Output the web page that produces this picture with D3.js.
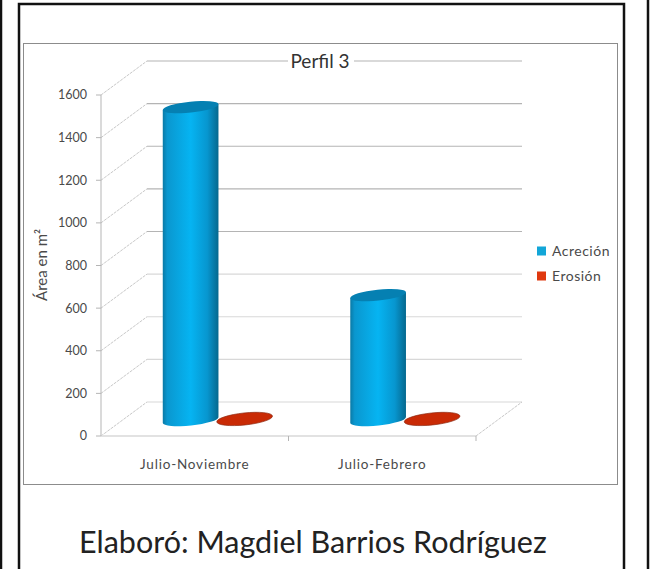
<!DOCTYPE html>
<html lang="en">
<head>
	<meta charset="UTF-8">
	<title>Perfil 3</title>
	<style>
		html, body { margin: 0; padding: 0; background: #fff; }
		svg { display: block; }
		text { font-family: Lato, "Open Sans", sans-serif; fill: #4a4a4a; }
		.frame { fill: none; stroke: #111; stroke-width: 2.5px; }
		.wall { stroke-width: 1.2px; }
		.depth { stroke: #c8c8c8; stroke-width: 1px; stroke-dasharray: 3 1; }
		.axis { stroke: #b5b5b5; stroke-width: 1px; }
	</style>
	<script src="https://cdn.jsdelivr.net/npm/d3@7"></script>
</head>
<body>
	<div class="wrap"></div>
	<script>
	// values
	var categories = ["Julio-Noviembre", "Julio-Febrero"];
	var seriesNames = ["Acreción", "Erosión"];
	var acrecion = [1468, 586];
	var erosion = [5, 5];
	var yTicks = [0, 200, 400, 600, 800, 1000, 1200, 1400, 1600];
	var seriesColors = ["#12a6d8", "#e0390f"];

	var width = 656, height = 569;
	var depthX = 46, depthY = -34, barDepth = 0.47;
	var tilt = -6;

	var svg = d3.select(".wrap").append("svg")
		.attr("width", width)
		.attr("height", height);

	var x = d3.scaleBand().domain(categories).range([101, 476]);
	var y = d3.scaleLinear().domain([0, 1600]).range([436, 95]);
	// the two series share the middle of each category
	var xSeries = d3.scaleBand().domain(seriesNames).range([41, 149]);

	// outer frames
	svg.append("line").attr("class", "frame").attr("x1", 1).attr("x2", 1).attr("y1", 0).attr("y2", height);
	svg.append("line").attr("class", "frame").attr("x1", 648).attr("x2", 648).attr("y1", 0).attr("y2", height);
	svg.append("path").attr("class", "frame").attr("d", "M19,569V4H624V569");

	// chart box
	svg.append("rect")
		.attr("x", 23.5).attr("y", 43.5).attr("width", 594).attr("height", 441)
		.attr("fill", "#fff").attr("stroke", "#8c8c8c");

	// gradient for the cylinder body
	var grad = svg.append("defs").append("linearGradient").attr("id", "blue");
	grad.selectAll("stop")
		.data([["0%", "#0a7aa6"], ["8%", "#0a97cf"], ["50%", "#06b4f2"], ["80%", "#0796cf"], ["100%", "#05688e"]])
		.enter().append("stop")
		.attr("offset", function(d) { return d[0]; })
		.attr("stop-color", function(d) { return d[1]; });

	// back wall gridlines and depth lines
	var x0 = x.range()[0], x1 = x.range()[1];
	svg.selectAll("line.wall").data(yTicks).enter().append("line")
		.attr("class", "wall")
		.attr("stroke", function(d) { return d >= 800 ? "#b4b4b4" : "#d8d8d8"; })
		.attr("x1", x0 + depthX).attr("x2", x1 + depthX)
		.attr("y1", function(d) { return y(d) + depthY; })
		.attr("y2", function(d) { return y(d) + depthY; });
	svg.selectAll("line.depth").data(yTicks).enter().append("line")
		.attr("class", "depth")
		.attr("x1", x0).attr("x2", x0 + depthX)
		.attr("y1", function(d) { return y(d); })
		.attr("y2", function(d) { return y(d) + depthY; });
	svg.append("line").attr("class", "depth")
		.attr("x1", x1).attr("x2", x1 + depthX)
		.attr("y1", y(0)).attr("y2", y(0) + depthY);

	// floor front edge, y axis
	svg.append("line").attr("stroke", "#e2e2e2").attr("stroke-width", 2)
		.attr("x1", x0).attr("x2", x1).attr("y1", y(0)).attr("y2", y(0));
	svg.append("line").attr("class", "axis")
		.attr("x1", x0).attr("x2", x0).attr("y1", y(1600)).attr("y2", y(0));
	svg.selectAll("line.ytick").data(yTicks).enter().append("line")
		.attr("class", "axis ytick")
		.attr("x1", x0 - 5).attr("x2", x0)
		.attr("y1", function(d) { return y(d); })
		.attr("y2", function(d) { return y(d); });
	svg.selectAll("text.ylab").data(yTicks).enter().append("text")
		.attr("class", "ylab")
		.attr("x", 87)
		.attr("y", function(d) { return y(d); })
		.attr("dy", "0.35em")
		.attr("text-anchor", "end")
		.attr("font-size", 12.5)
		.text(function(d) { return d; });

	// category separators
	svg.selectAll("line.xtick").data([x.range()[0] + x.step(), x1]).enter().append("line")
		.attr("class", "axis xtick")
		.attr("x1", function(d) { return d; }).attr("x2", function(d) { return d; })
		.attr("y1", y(0)).attr("y2", y(0) + 5);
	svg.selectAll("text.xlab").data(categories).enter().append("text")
		.attr("class", "xlab")
		.attr("x", function(d) { return x(d) + x.bandwidth() / 2; })
		.attr("y", 464)
		.attr("dy", "0.35em")
		.attr("text-anchor", "middle")
		.attr("font-size", 13.5)
		.attr("letter-spacing", 0.8)
		.text(function(d) { return d; });

	// cylinders
	var rad = tilt * Math.PI / 180;
	function ell(cx, cy, rx, ry) {
		var dx = rx * Math.cos(rad), dy = rx * Math.sin(rad);
		return {
			lx: cx - dx, ly: cy - dy, rx: cx + dx, ry: cy + dy,
			arc: "A" + rx + "," + ry + " " + tilt + " 1 0 "
		};
	}
	function drawBar(cat, name, value) {
		var cx = x(cat) + xSeries(name) + xSeries.bandwidth() / 2 + depthX * barDepth;
		var base = y(0) + depthY * barDepth;
		var top = base - (y(0) - y(value));
		var rx = 28;
		var isBlue = name === seriesNames[0];
		var ry = isBlue ? 5.5 : 6;
		var b = ell(cx, base, rx, ry), t = ell(cx, top, rx, ry);
		if (isBlue) {
			svg.append("path")
				.attr("d", "M" + t.lx + "," + t.ly + "L" + b.lx + "," + b.ly + b.arc + b.rx + "," + b.ry + "L" + t.rx + "," + t.ry + "Z")
				.attr("fill", "url(#blue)");
			svg.append("path")
				.attr("d", "M" + t.lx + "," + t.ly + t.arc + t.rx + "," + t.ry + t.arc + t.lx + "," + t.ly + "Z")
				.attr("fill", "#0580b2");
		} else {
			svg.append("path")
				.attr("d", "M" + t.lx + "," + t.ly + t.arc + t.rx + "," + t.ry + t.arc + t.lx + "," + t.ly + "Z")
				.attr("fill", "#c92a05")
				.attr("stroke", "#8e2a12")
				.attr("stroke-width", 0.7);
		}
	}
	categories.forEach(function(c, i) {
		drawBar(c, seriesNames[1], erosion[i]);
		drawBar(c, seriesNames[0], acrecion[i]);
	});

	// chart title over the top gridline
	svg.append("rect").attr("x", 288).attr("y", 52).attr("width", 66).attr("height", 18).attr("fill", "#fff");
	svg.append("text")
		.attr("x", 320).attr("y", 61).attr("dy", "0.35em")
		.attr("text-anchor", "middle")
		.attr("font-size", 19)
		.style("fill", "#333")
		.text("Perfil 3");

	// y axis title
	svg.append("text")
		.attr("transform", "translate(42,265) rotate(-90)")
		.attr("text-anchor", "middle")
		.attr("dy", "0.35em")
		.attr("font-size", 15)
		.text("Área en m²");

	// legend
	var legend = svg.selectAll("g.legend").data(seriesNames).enter().append("g")
		.attr("class", "legend")
		.attr("transform", function(d, i) { return "translate(537," + (251 + i * 25) + ")"; });
	legend.append("rect")
		.attr("x", 0).attr("y", -4.5).attr("width", 9).attr("height", 9)
		.attr("fill", function(d, i) { return seriesColors[i]; });
	legend.append("text")
		.attr("x", 15).attr("dy", "0.35em")
		.attr("font-size", 14)
		.attr("letter-spacing", 0.5)
		.text(function(d) { return d; });

	// credit line
	svg.append("text")
		.attr("x", 79).attr("y", 553)
		.attr("font-size", 30.5)
		.style("fill", "#222")
		.text("Elaboró: Magdiel Barrios Rodríguez");
	</script>
</body>
</html>
